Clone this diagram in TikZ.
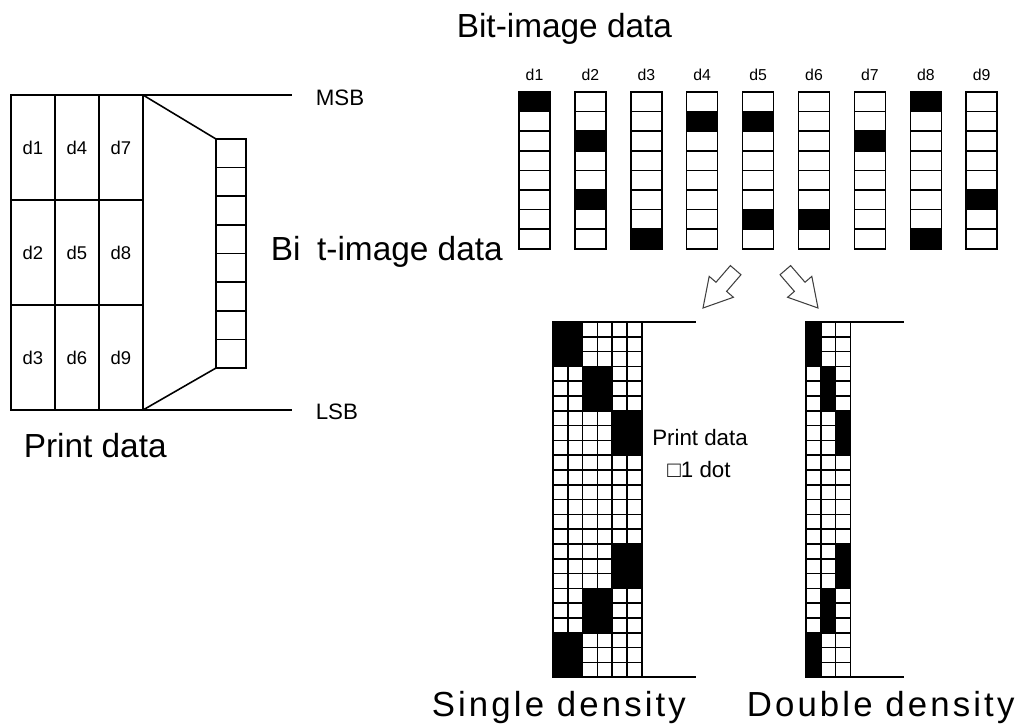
\documentclass[tikz,border=0pt]{standalone}
\usepackage{fontspec}
\setmainfont{Liberation Sans}
\newfontfamily\widefont[LetterSpace=9]{Liberation Sans}
\usetikzlibrary{positioning}
\tikzset{
  bigtext/.style={font=\fontsize{19}{23}\selectfont, inner sep=0pt},
  widetext/.style={font=\widefont\fontsize{19.8}{23}\selectfont, inner sep=0pt},
  midtext/.style={font=\fontsize{12.7}{15}\selectfont, inner sep=0pt},
  celltext/.style={font=\fontsize{10.5}{12}\selectfont, inner sep=0pt},
  bittext/.style={font=\fontsize{9}{11}\selectfont, inner sep=0pt},
  hollowarrow/.style={draw=black!75, line width=0.6pt, line join=miter},
}

\begin{document}
\begin{tikzpicture}[x=0.02cm, y=-0.02cm, line width=0.9pt]
  \useasboundingbox (0,0) rectangle (1028,725);

  % print data block, d1..d9 by columns
  \foreach \c in {0,1,2} {
    \foreach \r in {0,1,2} {
      \pgfmathtruncatemacro{\n}{3*\c+\r+1}
      \draw (11+44*\c, 95+105*\r) rectangle ++(44,105);
      \node[celltext] (pd\n) at (33+44*\c, 147.5+105*\r) {d\n};
    }
  }
  \coordinate (blockNE) at (143,95);
  \coordinate (blockSE) at (143,410);

  % one byte column
  \foreach \i in {0,...,7} {
    \draw (216, 139+28.625*\i) rectangle ++(30,28.625);
  }
  \coordinate (colNW) at (216,139);
  \coordinate (colSW) at (216,368);
  \draw (blockNE) -- (colNW);
  \draw (blockSE) -- (colSW);

  % MSB / LSB
  \coordinate (msbend) at (292,95);
  \coordinate (lsbend) at (292,410);
  \node[midtext, anchor=west] (msb) at (315,98) {MSB};
  \node[midtext, anchor=west] (lsb) at (315,412) {LSB};
  \draw (blockNE) -- (msbend);
  \draw (blockSE) -- (lsbend);

  \node[bigtext, anchor=base west] (printlabel) at (23,457) {Print data};
  \node[bigtext, anchor=base west] (bitlabel) at (270,260) {Bi\hspace{9.5pt}t-image data};
  \node[bigtext, anchor=base west] (title) at (456,37) {Bit-image data};

  % bit-image data d1..d9
  \foreach \k/\ones in {1/{0}, 2/{2,5}, 3/{7}, 4/{1}, 5/{1,6}, 6/{6}, 7/{2}, 8/{0,7}, 9/{5}} {
    \pgfmathsetmacro{\xk}{519+55.9*(\k-1)}
    \foreach \i in {0,...,7} {
      \draw (\xk, 92+19.6*\i) rectangle ++(31,19.6);
    }
    \foreach \i in \ones {
      \fill (\xk, 92+19.6*\i) rectangle ++(31,19.6);
    }
    \node[bittext] (bd\k) at (\xk+15.5, 75) {d\k};
  }

  % hollow arrows
  \begin{scope}[shift={(703,308)}, rotate=-130.8]
    \draw[hollowarrow] (0,0) -- (-28,16) -- (-28,7) -- (-50,7) -- (-50,-7) -- (-28,-7) -- (-28,-16) -- cycle;
  \end{scope}
  \begin{scope}[shift={(818,308)}, rotate=-49.2]
    \draw[hollowarrow] (0,0) -- (-28,16) -- (-28,7) -- (-50,7) -- (-50,-7) -- (-28,-7) -- (-28,-16) -- cycle;
  \end{scope}

  % single density
  \foreach \r in {0,...,23} {
    \foreach \c in {0,...,5} {
      \draw (553+14.8*\c, 322+14.8*\r) rectangle ++(14.8,14.8);
    }
  }
  \foreach \b/\c in {0/0, 1/1, 2/2, 5/2, 6/1, 7/0} {
    \fill (553+29.6*\c, 322+44.4*\b) rectangle ++(29.6,44.4);
  }
  \coordinate (sgltop) at (642,322);
  \coordinate (sglbot) at (642,677.2);
  \coordinate (sgltopend) at (696,322);
  \coordinate (sglbotend) at (696,677.2);
  \draw (sgltop) -- (sgltopend);
  \draw (sglbot) -- (sglbotend);

  % double density
  \foreach \r in {0,...,23} {
    \foreach \c in {0,...,2} {
      \draw (806+14.8*\c, 322+14.8*\r) rectangle ++(14.8,14.8);
    }
  }
  \foreach \b/\c in {0/0, 1/1, 2/2, 5/2, 6/1, 7/0} {
    \fill (806+14.8*\c, 322+44.4*\b) rectangle ++(14.8,44.4);
  }
  \coordinate (dbltop) at (850.4,322);
  \coordinate (dblbot) at (850.4,677.2);
  \coordinate (dbltopend) at (904,322);
  \coordinate (dblbotend) at (904,677.2);
  \draw (dbltop) -- (dbltopend);
  \draw (dblbot) -- (dblbotend);

  \node[midtext] (printnote) at (700,438) {Print data};
  \node[midtext] (dotnote) at (699,470) {□1 dot};

  \node[widetext, anchor=base west] (single) at (431,716) {Single density};
  \node[widetext, anchor=base west] (double) at (746,716) {Double density};
\end{tikzpicture}
\end{document}
